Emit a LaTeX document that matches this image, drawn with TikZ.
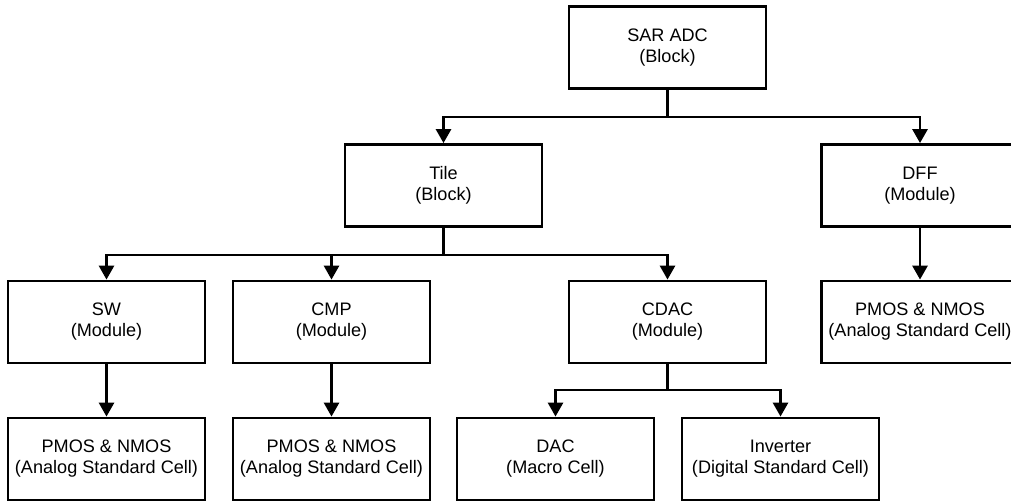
\documentclass[tikz,border=0pt]{standalone}
\usepackage{fontspec}
\setmainfont{Liberation Sans}
\usetikzlibrary{arrows.meta}
\begin{document}
\begin{tikzpicture}[x=1pt,y=-1pt,
  box/.style={draw, line width=2.8pt, minimum width=197pt, minimum height=82pt,
    inner sep=0pt, align=center, font=\fontsize{18.1}{21}\selectfont},
  arr/.style={line width=2.8pt, -{Triangle[width=15pt,length=14pt]}}]
\useasboundingbox (0,0) rectangle (1011,502);
\clip (0,0) rectangle (1011,502);
% hierarchy levels
\node[box] (sar)  at (667.5,47.5) {SAR ADC\\(Block)};
\node[box] (tile) at (443.5,185.5) {Tile\\(Block)};
\node[box] (dff)  at (920,185.5) {DFF\\(Module)};
\node[box] (sw)   at (106.5,322) {SW\\(Module)};
\node[box] (cmp)  at (331.5,322) {CMP\\(Module)};
\node[box] (cdac) at (667.5,322) {CDAC\\(Module)};
\node[box] (dffc) at (920,322) {PMOS \& NMOS\\(Analog Standard Cell)};
\node[box] (swc)  at (106.5,459) {PMOS \& NMOS\\(Analog Standard Cell)};
\node[box] (cmpc) at (331.5,459) {PMOS \& NMOS\\(Analog Standard Cell)};
\node[box] (dac)  at (555.5,459) {DAC\\(Macro Cell)};
\node[box] (inv)  at (780.5,459) {Inverter\\(Digital Standard Cell)};
% bus heights
\coordinate (b1) at (0,117);
\coordinate (b2) at (0,255);
\coordinate (b3) at (0,390);
% connectors
\draw[arr] (sar.south) -- (sar.south |- b1) -| (tile.north);
\draw[arr] (sar.south) -- (sar.south |- b1) -| (dff.north);
\draw[arr] (tile.south) -- (tile.south |- b2) -| (sw.north);
\draw[arr] (tile.south) -- (tile.south |- b2) -| (cmp.north);
\draw[arr] (tile.south) -- (tile.south |- b2) -| (cdac.north);
\draw[arr] (dff.south) -- (dffc.north);
\draw[arr] (sw.south) -- (swc.north);
\draw[arr] (cmp.south) -- (cmpc.north);
\draw[arr] (cdac.south) -- (cdac.south |- b3) -| (dac.north);
\draw[arr] (cdac.south) -- (cdac.south |- b3) -| (inv.north);
\end{tikzpicture}
\end{document}
